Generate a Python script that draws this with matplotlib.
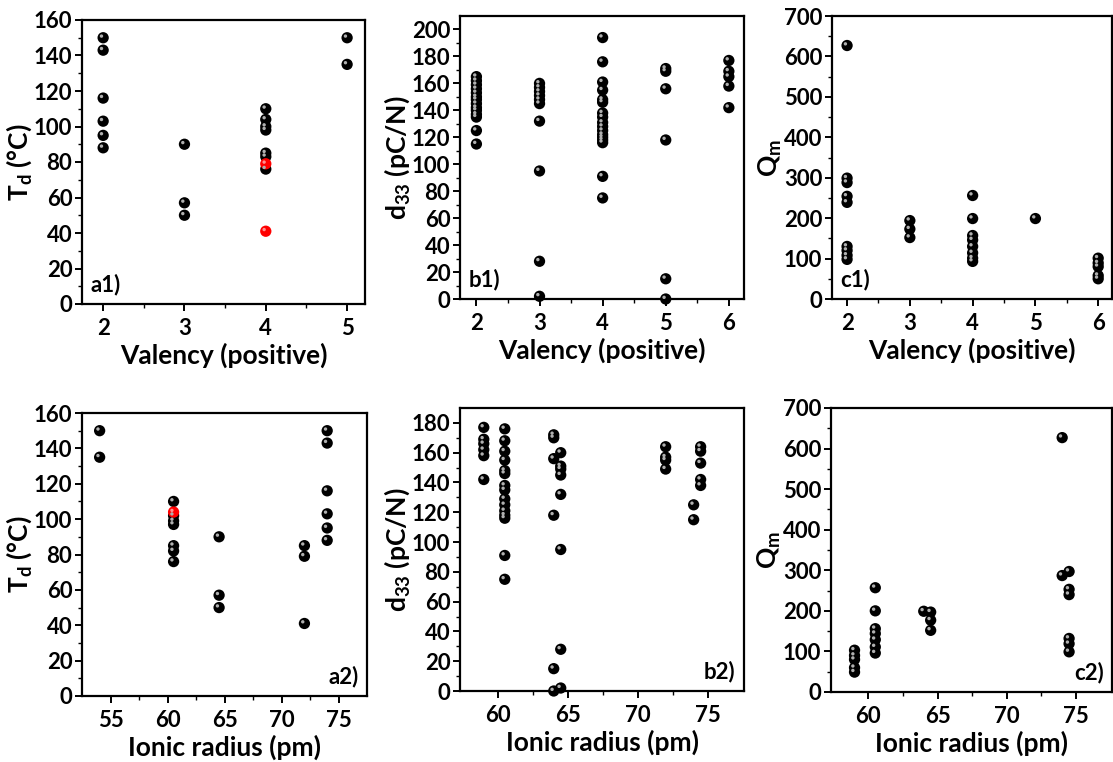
import matplotlib
matplotlib.use("Agg")
import matplotlib.pyplot as plt
from matplotlib.transforms import offset_copy

plt.rcParams['font.family'] = ['Lato', 'DejaVu Sans']
plt.rcParams['font.weight'] = 'bold'
plt.rcParams['mathtext.fontset'] = 'custom'
plt.rcParams['mathtext.bf'] = 'Lato:bold'
plt.rcParams['mathtext.rm'] = 'Lato:bold'

# a1) Td vs valency
a1_x = [2, 2, 2, 2, 2, 2, 3, 3, 3, 4, 4, 4, 4, 4, 4, 4, 5, 5]
a1_y = [150, 143, 116, 103, 95, 88, 90, 57, 50, 110, 104, 100, 98, 85, 83, 76, 150, 135]
a1_red_x = [4, 4]
a1_red_y = [79, 41]

# a2) Td vs ionic radius
a2_x = [54, 54, 60.5, 60.5, 60.5, 60.5, 60.5, 60.5, 60.5, 64.5, 64.5, 64.5,
        72, 72, 72, 74, 74, 74, 74, 74, 74]
a2_y = [150, 135, 110, 102, 99, 97, 85, 82, 76, 90, 57, 50,
        85, 79, 41, 150, 143, 116, 103, 95, 88]
a2_red_x = [60.5]
a2_red_y = [104]

# b1) d33 vs valency
b1_x = [2] * 14 + [3] * 10 + [4] * 17 + [5] * 6 + [6] * 5
b1_y = [165, 162, 159, 156, 153, 150, 148, 145, 142, 140, 137, 135, 125, 115,
        160, 157, 154, 151, 148, 145, 132, 95, 28, 2,
        194, 176, 161, 155, 148, 146, 138, 135, 131, 128, 125, 122, 120, 118, 116, 91, 75,
        171, 169, 156, 118, 15, 0,
        177, 169, 165, 158, 142]

# b2) d33 vs ionic radius
b2_x = [59] * 6 + [60.5] * 15 + [64] * 6 + [64.5] * 8 + [72] * 4 + [74] * 2 + [74.5] * 5
b2_y = [177, 169, 166, 162, 158, 142,
        176, 168, 161, 155, 148, 146, 138, 135, 129, 125, 121, 118, 116, 91, 75,
        172, 170, 156, 118, 15, 0,
        160, 151, 149, 145, 132, 95, 28, 2,
        164, 157, 155, 149,
        125, 115,
        164, 161, 153, 142, 138]

# c1) Qm vs valency
c1_x = [2] * 9 + [3] * 3 + [4] * 8 + [5] + [6] * 5
c1_y = [627, 299, 288, 254, 239, 130, 120, 108, 98,
        194, 173, 152,
        256, 199, 157, 146, 130, 114, 101, 93,
        199,
        101, 89, 80, 58, 50]

# c2) Qm vs ionic radius
c2_x = [59] * 5 + [60.5] * 7 + [64] + [64.5] * 3 + [74] * 2 + [74.5] * 6
c2_y = [103, 90, 80, 60, 49,
        257, 200, 156, 144, 129, 111, 96,
        199,
        197, 177, 152,
        627, 287,
        297, 253, 240, 132, 119, 99]

W, H = 1113, 762
fig = plt.figure(figsize=(W / 100, H / 100), dpi=100)


def box(x0, y0, x1, y1):
    return [x0 / W, 1 - y1 / H, (x1 - x0) / W, (y1 - y0) / H]


def balls(ax, x, y, color='black'):
    ax.scatter(x, y, s=66, color=color, edgecolors='none', zorder=3, clip_on=False)
    hl = offset_copy(ax.transData, fig=fig, x=-1.2, y=1.2, units='points')
    shade = '#b0b0b0' if color == 'black' else '#ff9090'
    ax.scatter(x, y, s=6, color=shade, edgecolors='none', zorder=4,
               transform=hl, clip_on=False)


def style(ax, xlim, xticks, xminor, ylim, yticks, yminor, xlabel, ylabel, tag, tagpos):
    ax.set_xlim(xlim)
    ax.set_ylim(ylim)
    ax.set_xticks(xticks)
    ax.set_xticks(xminor, minor=True)
    ax.set_yticks(yticks)
    ax.set_yticks(yminor, minor=True)
    for s in ax.spines.values():
        s.set_linewidth(1.6)
    ax.tick_params(which='major', direction='out', length=5, width=1.4,
                   labelsize=16, top=False, right=False, pad=2)
    ax.tick_params(axis='x', which='major', pad=5)
    ax.tick_params(which='minor', direction='out', length=3, width=1.0,
                   top=False, right=False)
    ax.set_xlabel(xlabel, fontsize=19, fontweight='bold', labelpad=3)
    ax.set_ylabel(ylabel, fontsize=19, fontweight='bold', labelpad=0)
    if tagpos == 'left':
        ax.text(0.03, 0.03, tag, transform=ax.transAxes, fontsize=16,
                fontweight='bold', ha='left', va='bottom')
    else:
        ax.text(0.97, 0.03, tag, transform=ax.transAxes, fontsize=16,
                fontweight='bold', ha='right', va='bottom')


td_label = r'T$_\mathbf{d}$ (°C)'
d33_label = r'd$_\mathbf{33}$ (pC/N)'
qm_label = r'Q$_\mathbf{m}$'
val_label = 'Valency (positive)'
rad_label = 'Ionic radius (pm)'

ax = fig.add_axes(box(82, 20, 365, 304))
balls(ax, a1_x, a1_y)
balls(ax, a1_red_x, a1_red_y, color='red')
style(ax, (1.74, 5.22), [2, 3, 4, 5], [2.5, 3.5, 4.5], (0, 160),
      range(0, 161, 20), range(10, 160, 20), val_label, td_label, 'a1)', 'left')

ax = fig.add_axes(box(460, 16, 744, 299))
balls(ax, b1_x, b1_y)
style(ax, (1.74, 6.24), [2, 3, 4, 5, 6], [2.5, 3.5, 4.5, 5.5], (0, 210),
      range(0, 201, 20), range(10, 210, 10), val_label, d33_label, 'b1)', 'left')

ax = fig.add_axes(box(832, 16, 1112, 299))
balls(ax, c1_x, c1_y)
style(ax, (1.76, 6.22), [2, 3, 4, 5, 6], [2.5, 3.5, 4.5, 5.5], (0, 700),
      range(0, 701, 100), range(50, 700, 100), val_label, qm_label, 'c1)', 'left')

ax = fig.add_axes(box(82, 413, 367, 696))
balls(ax, a2_x, a2_y)
balls(ax, a2_red_x, a2_red_y, color='red')
style(ax, (52.45, 77.5), [55, 60, 65, 70, 75], [57.5, 62.5, 67.5, 72.5], (0, 160),
      range(0, 161, 20), range(10, 160, 20), rad_label, td_label, 'a2)', 'right')

ax = fig.add_axes(box(460, 408, 744, 691))
balls(ax, b2_x, b2_y)
style(ax, (57.3, 77.6), [60, 65, 70, 75], [62.5, 67.5, 72.5], (0, 190),
      range(0, 181, 20), range(10, 190, 10), rad_label, d33_label, 'b2)', 'right')

ax = fig.add_axes(box(831, 408, 1112, 692))
balls(ax, c2_x, c2_y)
style(ax, (57.3, 77.6), [60, 65, 70, 75], [62.5, 67.5, 72.5], (0, 700),
      range(0, 701, 100), range(50, 700, 100), rad_label, qm_label, 'c2)', 'right')

fig.savefig('out.png', dpi=100)
